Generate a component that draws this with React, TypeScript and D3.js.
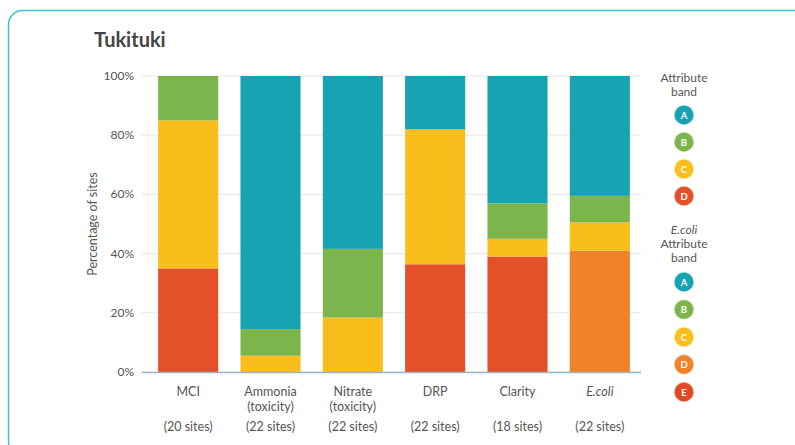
import React from "react";
import * as d3 from "d3";

const categories = ["MCI", "Ammonia", "Nitrate", "DRP", "Clarity", "E.coli"];
const labelLine1 = ["MCI", "Ammonia", "Nitrate", "DRP", "Clarity", "E.coli"];
const labelLine2 = ["", "(toxicity)", "(toxicity)", "", "", ""];
const siteLabels = ["(20 sites)", "(22 sites)", "(22 sites)", "(22 sites)", "(18 sites)", "(22 sites)"];

// percentage of sites per band, bottom to top
const bandE = [0, 0, 0, 0, 0, 0];
const bandD = [35, 0, 0, 36.4, 39, 41];
const bandC = [50, 5.5, 18.4, 45.6, 6, 9.5];
const bandB = [15, 9, 23.2, 0, 12, 9];
const bandA = [0, 85.5, 58.4, 18, 43, 40.5];

const yTicks = [0, 20, 40, 60, 80, 100];
const legendBands = ["A", "B", "C", "D"];
const ecoliLegendBands = ["A", "B", "C", "D", "E"];

const COLORS: Record<string, string> = {
  A: "#17a3b1",
  B: "#7db54d",
  C: "#f9be1c",
  D: "#e4502a",
  E: "#e04a24",
};
const ECOLI_COLORS: Record<string, string> = {
  A: "#17a3b1",
  B: "#7db54d",
  C: "#f9be1c",
  D: "#f08229",
  E: "#df4a26",
};

const FONT = "Lato, 'Open Sans', sans-serif";

export default function App() {
  const W = 795;
  const H = 445;
  const x = d3.scaleBand<string>().domain(categories).range([147, 641]).paddingInner(0.27).paddingOuter(0.135);
  const y = d3.scaleLinear().domain([0, 100]).range([372, 76]);

  const bandOrder = ["E", "D", "C", "B", "A"];
  const bandData: Record<string, number[]> = { E: bandE, D: bandD, C: bandC, B: bandB, A: bandA };
  const table = categories.map((c, i) => {
    const row: any = { cat: c };
    bandOrder.forEach((b) => (row[b] = bandData[b][i]));
    return row;
  });
  const stack = d3.stack<any>().keys(bandOrder)(table);

  const legendX = 684;

  return (
    <svg width={W} height={H} style={{ position: "absolute", left: 0, top: 0, background: "#fff" }}>
      <rect x={8.5} y={10.5} width={800} height={445} rx={14} fill="#fff" stroke="#3cc4c4" strokeWidth={1.5} />
      <text x={94} y={47} fontFamily={FONT} fontSize={20} fontWeight={700} fill="#444">
        Tukituki
      </text>

      {yTicks.map((t) => (
        <g key={t}>
          <line x1={142} x2={641} y1={y(t)} y2={y(t)} stroke="#e6e6e6" strokeWidth={1} />
          <text x={134} y={y(t) + 4} textAnchor="end" fontFamily={FONT} fontSize={12} fill="#555">
            {t}%
          </text>
        </g>
      ))}

      <text
        transform={`translate(97,${y(50)}) rotate(-90)`}
        textAnchor="middle"
        fontFamily={FONT}
        fontSize={12.5}
        fill="#555"
      >
        Percentage of sites
      </text>

      {stack.map((layer) =>
        layer.map((d, i) => {
          const key = layer.key;
          const col = categories[i] === "E.coli" ? ECOLI_COLORS[key] : COLORS[key];
          const h = y(d[0]) - y(d[1]);
          if (h <= 0) return null;
          return (
            <rect
              key={key + i}
              x={x(categories[i])}
              y={y(d[1])}
              width={x.bandwidth()}
              height={h}
              fill={col}
            />
          );
        })
      )}

      <line x1={142} x2={641} y1={y(0) + 0.5} y2={y(0) + 0.5} stroke="#9fb3c2" strokeWidth={1.5} />

      {categories.map((c, i) => {
        const cx = (x(c) as number) + x.bandwidth() / 2;
        return (
          <g key={c} fontFamily={FONT} fontSize={12.5} fill="#555" textAnchor="middle">
            <text x={cx} y={396} fontStyle={c === "E.coli" ? "italic" : "normal"}>
              {labelLine1[i]}
            </text>
            {labelLine2[i] && (
              <text x={cx} y={411}>
                {labelLine2[i]}
              </text>
            )}
            <text x={cx} y={431}>
              {siteLabels[i]}
            </text>
          </g>
        );
      })}

      <g fontFamily={FONT} fontSize={12} fill="#555" textAnchor="middle">
        <text x={legendX} y={82}>Attribute</text>
        <text x={legendX} y={96}>band</text>
        <text x={legendX} y={234} fontStyle="italic">E.coli</text>
        <text x={legendX} y={248}>Attribute</text>
        <text x={legendX} y={262}>band</text>
      </g>

      {legendBands.map((b, i) => (
        <g key={"l" + b}>
          <circle cx={legendX} cy={115 + i * 27} r={10} fill={COLORS[b]} stroke="#fff" strokeOpacity={0.5} strokeWidth={1.5} />
          <text x={legendX} y={115 + i * 27 + 3.5} textAnchor="middle" fontFamily={FONT} fontSize={9.5} fontWeight={700} fill="#fff">
            {b}
          </text>
        </g>
      ))}
      {ecoliLegendBands.map((b, i) => (
        <g key={"e" + b}>
          <circle cx={legendX} cy={282 + i * 27.5} r={10} fill={ECOLI_COLORS[b]} stroke="#fff" strokeOpacity={0.5} strokeWidth={1.5} />
          <text x={legendX} y={282 + i * 27.5 + 3.5} textAnchor="middle" fontFamily={FONT} fontSize={9.5} fontWeight={700} fill="#fff">
            {b}
          </text>
        </g>
      ))}
    </svg>
  );
}
